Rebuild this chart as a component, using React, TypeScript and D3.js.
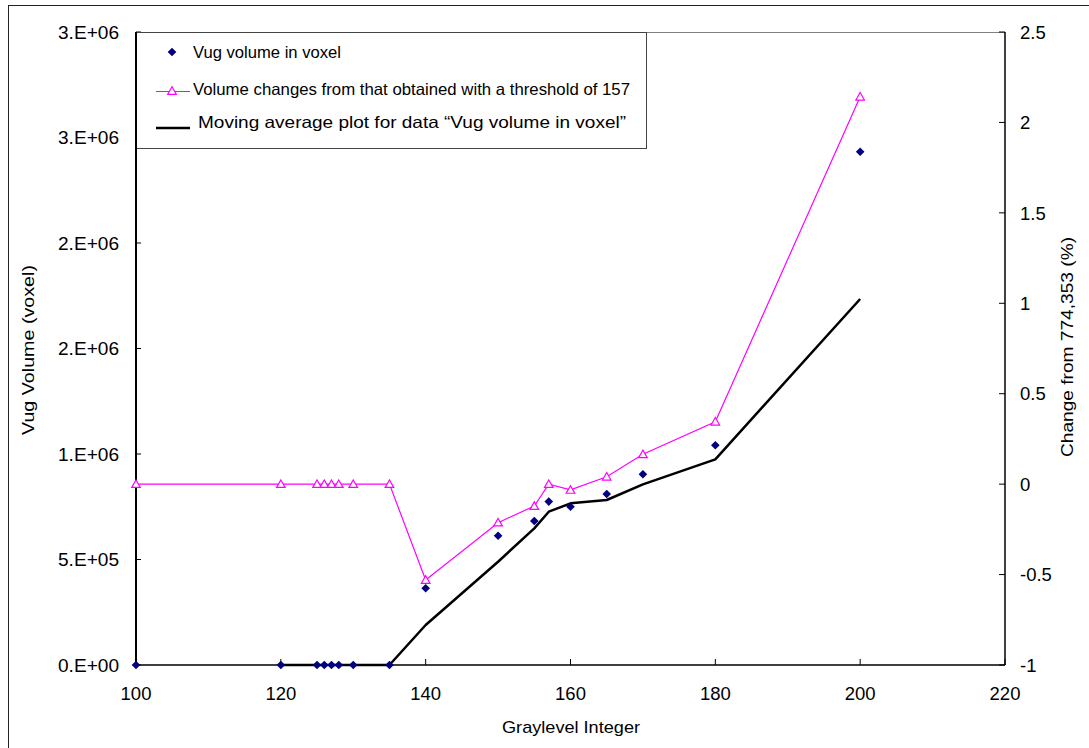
import React from "react";
import * as d3 from "d3";

// Threshold (graylevel) values and measured vug volumes
const grayLevels = [100, 120, 125, 126, 127, 128, 130, 135, 140, 150, 155, 157, 160, 165, 170, 180, 200];
const vugVolume = [0, 0, 0, 0, 0, 0, 0, 0, 363500, 612800, 682400, 774353, 750200, 810400, 903700, 1041200, 2432500];
// Change (%) relative to the volume at threshold 157
const changePct = [0, 0, 0, 0, 0, 0, 0, 0, -0.53, -0.213, -0.121, 0, -0.032, 0.041, 0.165, 0.345, 2.142];
// Two-period moving average of the vug volume
const movingAvgLevels = [120, 125, 126, 127, 128, 130, 135, 140, 150, 155, 157, 160, 165, 170, 180, 200];
const movingAvg = [0, 0, 0, 0, 0, 0, 0, 189600, 489500, 647800, 726500, 766300, 781900, 856300, 974800, 1734500];

const xTicks = [100, 120, 140, 160, 180, 200, 220];
const leftTicks = [0, 500000, 1000000, 1500000, 2000000, 2500000, 3000000];
const rightTicks = [-1, -0.5, 0, 0.5, 1, 1.5, 2, 2.5];

const legendLabels = [
  "Vug volume in voxel",
  "Volume changes from that obtained with a threshold of 157",
  "Moving average plot for data \u201cVug volume in voxel\u201d",
];

const W = 1089;
const H = 748;
const FONT = "Liberation Sans, Arial, Helvetica, sans-serif";

// Excel-style scientific label with zero decimals, e.g. 1.5e6 -> "2.E+06"
function sciLabel(v: number): string {
  const exp = v === 0 ? 0 : Math.floor(Math.log10(v));
  const m = v === 0 ? 0 : Math.round(v / Math.pow(10, exp));
  return `${m}.E+${String(exp).padStart(2, "0")}`;
}

export default function App() {
  const left = 136, right = 1005, top = 32, bottom = 665;
  const x = d3.scaleLinear().domain([100, 220]).range([left, right]);
  const yL = d3.scaleLinear().domain([0, 3000000]).range([bottom, top]);
  const yR = d3.scaleLinear().domain([-1, 2.5]).range([bottom, top]);

  const pinkLine = d3
    .line<number>()
    .x((_, i) => x(grayLevels[i]))
    .y((d) => yR(d))(changePct) as string;
  const avgLine = d3
    .line<number>()
    .x((_, i) => x(movingAvgLevels[i]))
    .y((d) => yL(d))(movingAvg) as string;

  const diamond = "M0,-4.3L4.3,0L0,4.3L-4.3,0Z";
  const tri = "M0,-4.2L4.3,3.3L-4.3,3.3Z";

  return (
    <svg
      width={W}
      height={H}
      style={{ position: "absolute", left: 0, top: 0, background: "#fff" }}
      fontFamily={FONT}
    >
      <rect x={0} y={0} width={W} height={H} fill="#fff" />
      {/* chart area frame */}
      <rect x={8.5} y={5.5} width={1200} height={900} fill="none" stroke="#222" strokeWidth={1} />

      {/* plot area top edge */}
      <line x1={left} x2={right} y1={top + 0.5} y2={top + 0.5} stroke="#808080" strokeWidth={1} />

      {/* left axis */}
      <line x1={left} x2={left} y1={top} y2={bottom} stroke="#000" strokeWidth={2} />
      {leftTicks.map((t) => (
        <g key={"l" + t}>
          <line x1={left} x2={left + 5} y1={yL(t)} y2={yL(t)} stroke="#000" strokeWidth={1} />
          <text x={119} y={yL(t)} dy="0.36em" textAnchor="end" fontSize={18.5} textLength={61} lengthAdjust="spacingAndGlyphs" fill="#000">
            {sciLabel(t)}
          </text>
        </g>
      ))}

      {/* right axis */}
      <line x1={right} x2={right} y1={top} y2={bottom} stroke="#000" strokeWidth={1.5} />
      {rightTicks.map((t) => (
        <g key={"r" + t}>
          <line x1={right - 6} x2={right} y1={yR(t)} y2={yR(t)} stroke="#000" strokeWidth={1} />
          <text x={1020} y={yR(t)} dy="0.36em" textAnchor="start" fontSize={18.5} fill="#000">
            {String(t)}
          </text>
        </g>
      ))}

      {/* bottom axis */}
      <line x1={left} x2={right} y1={bottom} y2={bottom} stroke="#000" strokeWidth={1.5} />
      {xTicks.map((t) => (
        <g key={"x" + t}>
          <line x1={x(t)} x2={x(t)} y1={bottom - 6} y2={bottom} stroke="#000" strokeWidth={1} />
          <text x={x(t)} y={700} textAnchor="middle" fontSize={18.5} fill="#000">
            {t}
          </text>
        </g>
      ))}

      {/* axis titles */}
      <text x={571} y={732.5} textAnchor="middle" fontSize={17} textLength={138} lengthAdjust="spacingAndGlyphs">
        Graylevel Integer
      </text>
      <text
        transform="translate(33.5,350) rotate(-90)"
        textAnchor="middle"
        fontSize={17}
        textLength={170}
        lengthAdjust="spacingAndGlyphs"
      >
        Vug Volume (voxel)
      </text>
      <text
        transform="translate(1073,347) rotate(-90)"
        textAnchor="middle"
        fontSize={17}
        textLength={220}
        lengthAdjust="spacingAndGlyphs"
      >
        Change from 774,353 (%)
      </text>

      {/* moving average */}
      <path d={avgLine} fill="none" stroke="#000" strokeWidth={2.5} strokeLinejoin="round" />

      {/* change (%) series */}
      <path d={pinkLine} fill="none" stroke="#FF00FF" strokeWidth={1.2} />
      {changePct.map((d, i) => (
        <path
          key={"p" + i}
          d={tri}
          transform={`translate(${x(grayLevels[i])},${yR(d)})`}
          fill="#fff"
          stroke="#FF00FF"
          strokeWidth={1.2}
        />
      ))}

      {/* vug volume points */}
      {vugVolume.map((d, i) => (
        <path
          key={"v" + i}
          d={diamond}
          transform={`translate(${x(grayLevels[i])},${yL(d)})`}
          fill="#000080"
        />
      ))}

      {/* legend */}
      <rect x={left + 0.5} y={top + 0.5} width={510} height={116} fill="#fff" stroke="#444" strokeWidth={1} />
      <line x1={left} x2={left} y1={top} y2={top + 117} stroke="#000" strokeWidth={2} />
      <path d={diamond} transform="translate(172,52)" fill="#000080" />
      <text x={193} y={58} fontSize={16.5} textLength={148} lengthAdjust="spacingAndGlyphs" fill="#000">
        {legendLabels[0]}
      </text>
      <line x1={156} x2={190} y1={91.5} y2={91.5} stroke="#FF00FF" strokeWidth={1.2} />
      <path d={tri} transform="translate(172,91)" fill="#fff" stroke="#FF00FF" strokeWidth={1.2} />
      <text x={193} y={95} fontSize={16.5} textLength={437} lengthAdjust="spacingAndGlyphs" fill="#000">
        {legendLabels[1]}
      </text>
      <line x1={156} x2={190} y1={128} y2={128} stroke="#000" strokeWidth={2.5} />
      <text x={198} y={128.3} fontSize={16.5} textLength={428} lengthAdjust="spacingAndGlyphs" fill="#000">
        {legendLabels[2]}
      </text>
    </svg>
  );
}
